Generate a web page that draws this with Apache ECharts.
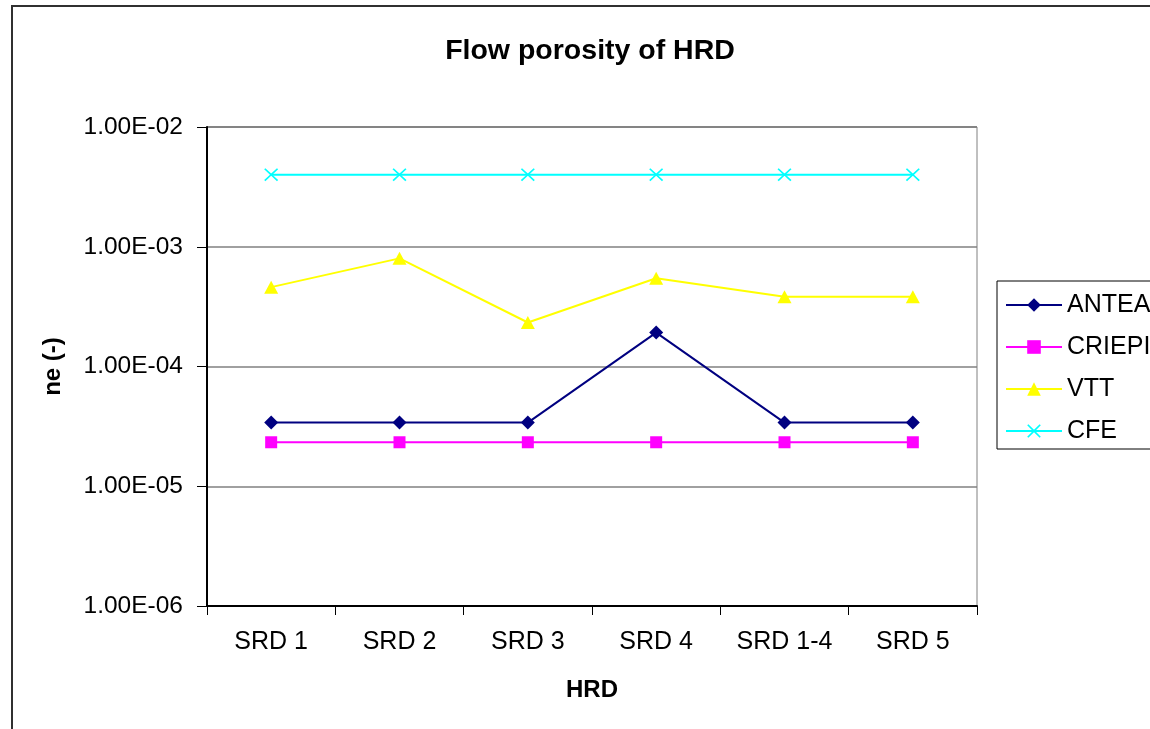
<!DOCTYPE html>
<html>
<head>
<meta charset="utf-8">
<title>Flow porosity of HRD</title>
<script src="https://cdn.jsdelivr.net/npm/echarts@6/dist/echarts.min.js"></script>
<style>
  html, body { margin: 0; padding: 0; background: #fff; }
  #chart { width: 1150px; height: 729px; }
</style>
</head>
<body>
<div id="chart"></div>
<script>
// Hydraulic rock domains (x categories)
const categories = ['SRD 1', 'SRD 2', 'SRD 3', 'SRD 4', 'SRD 1-4', 'SRD 5'];

// Flow porosity ne (-) per modelling team
const antea  = [3.4e-5, 3.4e-5, 3.4e-5, 1.92e-4, 3.4e-5, 3.4e-5];
const criepi = [2.33e-5, 2.33e-5, 2.33e-5, 2.33e-5, 2.33e-5, 2.33e-5];
const vtt    = [4.6e-4, 8.0e-4, 2.33e-4, 5.45e-4, 3.83e-4, 3.83e-4];
const cfe    = [4.0e-3, 4.0e-3, 4.0e-3, 4.0e-3, 4.0e-3, 4.0e-3];

// Log axis range
const yMin = 1e-6;
const yMax = 1e-2;

const FONT = '"Liberation Sans", Arial, sans-serif';

// Format values like 1.00E-02
function sci(v) {
  const parts = v.toExponential(2).toUpperCase().split('E');
  const exp = parseInt(parts[1], 10);
  const sign = exp < 0 ? '-' : '+';
  return parts[0] + 'E' + sign + String(Math.abs(exp)).padStart(2, '0');
}

// Filled "x" marker
const crossPath = 'path://M0,1.2L1.2,0L7,5.8L12.8,0L14,1.2L8.2,7L14,12.8L12.8,14L7,8.2L1.2,14L0,12.8L5.8,7Z';

function lineSeries(name, data, color, symbol, size) {
  return {
    name: name,
    type: 'line',
    data: data,
    symbol: symbol,
    symbolSize: size,
    showSymbol: true,
    lineStyle: { color: color, width: 2 },
    itemStyle: { color: color },
    emphasis: { disabled: true },
    animation: false
  };
}

const chart = echarts.init(document.getElementById('chart'), null, { renderer: 'canvas' });

chart.setOption({
  backgroundColor: '#ffffff',
  animation: false,
  title: {
    text: 'Flow porosity of HRD',
    left: 590,
    top: 37,
    padding: 0,
    textAlign: 'center',
    textStyle: { fontFamily: FONT, fontSize: 28.5, fontWeight: 'bold', color: '#000' }
  },
  graphic: [{
    type: 'rect',
    shape: { x: 12, y: 6, width: 1300, height: 900 },
    style: { fill: 'none', stroke: '#303030', lineWidth: 2 },
    silent: true,
    z: -10
  }],
  legend: {
    orient: 'vertical',
    left: 997,
    top: 281,
    padding: [11, 40, 5, 8],
    itemWidth: 56,
    itemHeight: 17,
    itemGap: 16,
    borderColor: '#000',
    borderWidth: 1,
    backgroundColor: '#fff',
    selectedMode: false,
    textStyle: { fontFamily: FONT, fontSize: 25, color: '#000', lineHeight: 26 },
    data: ['ANTEA', 'CRIEPI', 'VTT', 'CFE']
  },
  grid: {
    left: 207,
    right: 173,
    top: 127,
    bottom: 123,
    show: true,
    borderColor: '#808080',
    borderWidth: 1,
    backgroundColor: '#fff'
  },
  xAxis: {
    type: 'category',
    data: categories,
    boundaryGap: true,
    name: 'HRD',
    nameLocation: 'middle',
    nameGap: 72,
    nameTextStyle: { fontFamily: FONT, fontSize: 24, fontWeight: 'bold', color: '#000' },
    axisLine: { lineStyle: { color: '#000', width: 2 } },
    axisTick: { show: true, length: 9, inside: false, lineStyle: { color: '#000', width: 1 } },
    axisLabel: { fontFamily: FONT, fontSize: 25, color: '#000', margin: 24, interval: 0 },
    splitLine: { show: false }
  },
  yAxis: {
    type: 'log',
    logBase: 10,
    min: yMin,
    max: yMax,
    name: 'ne (-)',
    nameLocation: 'middle',
    nameGap: 142,
    nameRotate: 90,
    nameTextStyle: { fontFamily: FONT, fontSize: 24, fontWeight: 'bold', color: '#000' },
    axisLine: { show: true, lineStyle: { color: '#000', width: 2 } },
    axisTick: { show: true, length: 10, inside: false, lineStyle: { color: '#000', width: 1 } },
    minorTick: { show: false },
    axisLabel: { fontFamily: FONT, fontSize: 24.5, color: '#000', margin: 24, formatter: sci },
    splitLine: { show: true, lineStyle: { color: '#808080', width: 1.5 } }
  },
  series: [
    lineSeries('ANTEA', antea, '#000080', 'diamond', [14, 14]),
    lineSeries('CRIEPI', criepi, '#ff00ff', 'rect', [12, 12]),
    lineSeries('VTT', vtt, '#ffff00', 'triangle', [14, 13]),
    lineSeries('CFE', cfe, '#00ffff', crossPath, [14, 13])
  ]
});
</script>
</body>
</html>
